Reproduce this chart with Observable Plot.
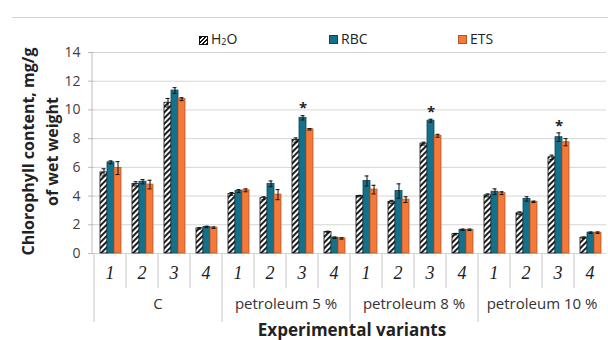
<!DOCTYPE html>
<html><head><meta charset="utf-8">
<script src="https://cdn.jsdelivr.net/npm/d3@7"></script>
<script src="https://cdn.jsdelivr.net/npm/@observablehq/plot@0.6"></script>
<style>
body{margin:0;background:#fff;font-family:"Open Sans",sans-serif;}
#wrap{position:relative;width:608px;height:340px;overflow:hidden;}
#topline{position:absolute;left:12px;right:0;top:17px;height:1px;background:#d3d3d3;}
#legend{position:absolute;top:30px;left:0;width:608px;height:20px;font-size:14px;color:#222;}
.item{position:absolute;top:0;display:flex;align-items:center;gap:3px;line-height:18px;}
.sw{width:9px;height:9px;box-sizing:border-box;}
#chart{position:absolute;left:0;top:0;}
</style></head>
<body>
<svg width="0" height="0" style="position:absolute">
  <defs>
    <pattern id="hatch" patternUnits="userSpaceOnUse" width="4" height="4" patternTransform="rotate(45)">
      <rect width="4" height="4" fill="#fff"/><rect width="1.9" height="4" fill="#111"/>
    </pattern>
  </defs>
</svg>
<div id="wrap">
  <div id="topline"></div>
  <div id="legend"></div>
  <div id="chart"></div>
</div>
<script>
// ---- data ----
const groups = ["C", "petroleum 5 %", "petroleum 8 %", "petroleum 10 %"];
const variants = ["1", "2", "3", "4"];
const series = ["H2O", "RBC", "ETS"];
const seriesLabels = ["H<sub style='font-size:9px;vertical-align:-1px'>2</sub>O", "RBC", "ETS"];
const seriesFill = ["url(#hatch)", "#17708a", "#f27a3a"];
const seriesStroke = ["#111", "#0c4656", "#b9561f"];
const yTicks = [0, 2, 4, 6, 8, 10, 12, 14];

const h2o    = [5.65, 4.85, 10.5, 1.75,  4.15, 3.85, 7.9, 1.5,  4.0, 3.6, 7.65, 1.35,  4.05, 2.8, 6.7, 1.1];
const h2oErr = [0.25, 0.15, 0.3, 0.05,   0.1, 0.1, 0.15, 0.05,  0.05, 0.1, 0.1, 0.05,  0.1, 0.1, 0.15, 0.05];
const rbc    = [6.35, 5.0, 11.35, 1.85,  4.35, 4.85, 9.45, 1.1,  5.05, 4.35, 9.25, 1.65,  4.3, 3.8, 8.1, 1.45];
const rbcErr = [0.1, 0.15, 0.2, 0.05,    0.1, 0.2, 0.15, 0.05,  0.35, 0.5, 0.1, 0.05,  0.2, 0.15, 0.3, 0.05];
const ets    = [5.95, 4.8, 10.75, 1.8,   4.4, 4.1, 8.65, 1.05,  4.45, 3.75, 8.2, 1.65,  4.2, 3.6, 7.75, 1.45];
const etsErr = [0.45, 0.3, 0.1, 0.05,    0.1, 0.35, 0.05, 0.05,  0.3, 0.2, 0.1, 0.05,  0.1, 0.05, 0.25, 0.05];
const starred = [0,0,0,0, 0,0,1,0, 0,0,1,0, 0,0,1,0];

// ---- build table ----
const keys = [];
groups.forEach(g => variants.forEach(v => keys.push(g + "|" + v)));
const vals = [h2o, rbc, ets], errs = [h2oErr, rbcErr, etsErr];
const rows = [];
keys.forEach((k, i) => series.forEach((s, j) => rows.push({
  key: k, series: s, value: vals[j][i], err: errs[j][i]
})));
const stars = keys.map((k, i) => ({key: k, series: "RBC", y: rbc[i] + rbcErr[i], on: starred[i]})).filter(d => d.on);

// ---- legend ----
const legendX = [199, 329, 458];
const leg = document.getElementById("legend");
series.forEach((s, j) => {
  const it = document.createElement("div");
  it.className = "item";
  it.style.left = legendX[j] + "px";
  it.innerHTML = `<div class="sw" style="background:${j === 0 ? "repeating-linear-gradient(-45deg,#111 0 1.4px,#fff 1.4px 2.8px)" : seriesFill[j]};border:1px solid ${seriesStroke[j]}"></div><span>${seriesLabels[j]}</span>`;
  leg.appendChild(it);
});

// ---- chart ----
const W = 608, H = 340, mL = 92, mT = 52, mB = 87;
const chart = Plot.plot({
  width: W, height: H,
  marginLeft: mL, marginRight: 0, marginTop: mT, marginBottom: mB,
  style: {fontFamily: "Open Sans", fontSize: "14px", color: "#404040", background: "transparent"},
  fx: {domain: keys, padding: 0, axis: null, label: null},
  x: {domain: series, paddingInner: 0, paddingOuter: 0.64, axis: null},
  y: {domain: [0, 14], ticks: 7, tickSize: 6, tickPadding: 8, label: null},
  facet: {data: rows, x: "key"},
  marks: [
    Plot.ruleY(yTicks, {stroke: "#d6d6d6", facet: false}),
    Plot.barY(rows, {fx: "key", x: "series", y: "value", fill: d => seriesFill[series.indexOf(d.series)],
      stroke: d => seriesStroke[series.indexOf(d.series)], strokeWidth: 0.8}),
    Plot.ruleX(rows, {fx: "key", x: "series", y1: d => d.value - d.err, y2: d => d.value + d.err, stroke: "#111", strokeWidth: 1}),
    Plot.tickY(rows, {fx: "key", x: "series", y: d => d.value + d.err, stroke: "#111", strokeWidth: 1, insetLeft: 1.5, insetRight: 1.5}),
    Plot.tickY(rows, {fx: "key", x: "series", y: d => d.value - d.err, stroke: "#111", strokeWidth: 1, insetLeft: 1.5, insetRight: 1.5}),
    Plot.text(stars, {fx: "key", x: "series", y: "y", text: () => "*", dy: -7, fontSize: 15, fontWeight: "bold", fill: "#222"})
  ]
});
document.getElementById("chart").appendChild(chart);

// ---- axis decorations through the plot's scales ----
const svg = d3.select(chart).style("overflow", "visible");
svg.selectAll('[aria-label^="y-axis"] path, [aria-label^="y-axis"] line').attr("stroke", "#bdbdbd");
const fxS = chart.scale("fx"), yS = chart.scale("y");
const step = fxS.step || fxS.bandwidth;
const y0 = yS.apply(0), yTop = yS.apply(14);
const deco = svg.append("g");
// y axis line
deco.append("line").attr("x1", mL).attr("x2", mL).attr("y1", yTop).attr("y2", y0).attr("stroke", "#bdbdbd");
// separators and variant labels
keys.forEach((k, i) => {
  const x0 = fxS.apply(k);
  const isGroupStart = i % variants.length === 0;
  deco.append("line").attr("x1", x0).attr("x2", x0).attr("y1", y0).attr("y2", isGroupStart ? y0 + 69 : y0 + 35)
    .attr("stroke", "#c8c8c8");
  deco.append("text").attr("x", x0 + step / 2).attr("y", y0 + 20).attr("dy", "0.35em")
    .attr("text-anchor", "middle").attr("font-family", "Liberation Serif").attr("font-style", "italic")
    .attr("font-size", 18).attr("fill", "#222").text(k.split("|")[1]);
});
// group labels
groups.forEach((g, gi) => {
  const xs = fxS.apply(keys[gi * variants.length]);
  deco.append("text").attr("x", xs + step * variants.length / 2).attr("y", y0 + 51).attr("dy", "0.35em")
    .attr("text-anchor", "middle").attr("font-size", 15).attr("fill", "#333").text(g);
});
// axis titles
deco.append("text").attr("x", 352).attr("y", 336)
  .attr("text-anchor", "middle").attr("font-size", 17).attr("font-weight", "bold").attr("fill", "#222")
  .text("Experimental variants");
const yt = deco.append("text").attr("transform", `translate(28,${(yTop + y0) / 2 - 1}) rotate(-90)`)
  .attr("text-anchor", "middle").attr("font-size", 16).attr("font-weight", "bold").attr("fill", "#222");
yt.append("tspan").attr("x", 0).attr("dy", "0.35em").text("Chlorophyll content, mg/g");
yt.append("tspan").attr("x", 0).attr("dy", "1.5em").text("of wet weight");
</script>
</body></html>
